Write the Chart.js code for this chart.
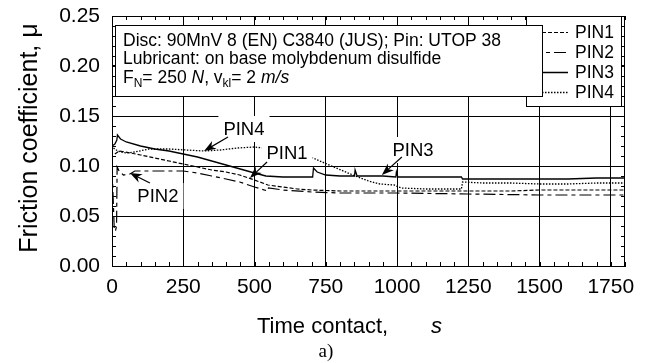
<!DOCTYPE html>
<html>
<head>
<meta charset="utf-8">
<title>Friction coefficient</title>
<script src="https://cdn.jsdelivr.net/npm/chart.js@4.4.0/dist/chart.umd.min.js"></script>
<style>
  html, body { margin: 0; padding: 0; background: #fff; }
</style>
</head>
<body>
<canvas id="chart" width="645" height="363"></canvas>
<script>
// axis ticks
const xTicks = [0, 250, 500, 750, 1000, 1250, 1500, 1750];
const yTicks = [0.00, 0.05, 0.10, 0.15, 0.20, 0.25];

// PIN1 - dashed
const pin1Time = [10, 25, 47, 100, 150, 200, 250, 300, 350, 400, 448, 500, 547, 600, 650, 700, 800, 900, 1000, 1100, 1250, 1400, 1500, 1650, 1800];
const pin1Mu = [0.112, 0.115, 0.114, 0.111, 0.108, 0.105, 0.102, 0.099, 0.096, 0.094, 0.091, 0.086, 0.081, 0.079, 0.077, 0.076, 0.075, 0.075, 0.075, 0.075, 0.075, 0.075, 0.076, 0.076, 0.076];

// PIN2 - dash / long dash
const pin2Time = [0, 4, 8, 12, 16, 18, 25, 40, 63, 80, 150, 250, 300, 350, 400, 448, 500, 546, 549, 600, 700, 800, 1000, 1250, 1500, 1800];
const pin2Mu = [0.098, 0.068, 0.036, 0.035, 0.040, 0.099, 0.095, 0.091, 0.092, 0.095, 0.095, 0.095, 0.093, 0.090, 0.087, 0.084, 0.079, 0.075, 0.078, 0.076, 0.074, 0.073, 0.073, 0.072, 0.071, 0.071];

// PIN3 - solid
const pin3Time = [0, 10, 17, 19, 30, 50, 100, 150, 200, 250, 300, 350, 400, 450, 500, 540, 600, 704, 707, 720, 750, 800, 851, 853, 860, 900, 950, 996, 998, 1003, 1100, 1226, 1230, 1300, 1400, 1500, 1600, 1700, 1800];
const pin3Mu = [0.120, 0.122, 0.126, 0.131, 0.127, 0.124, 0.120, 0.117, 0.115, 0.112, 0.109, 0.105, 0.101, 0.097, 0.093, 0.090, 0.089, 0.089, 0.098, 0.094, 0.091, 0.090, 0.090, 0.096, 0.090, 0.090, 0.090, 0.089, 0.094, 0.089, 0.089, 0.089, 0.087, 0.087, 0.087, 0.087, 0.087, 0.088, 0.088];

// PIN4 - dotted
const pin4Time = [5, 15, 30, 50, 80, 130, 200, 260, 323, 380, 440, 500, 560, 620, 705, 770, 845, 900, 940, 990, 1005, 1015, 1100, 1226, 1230, 1300, 1400, 1500, 1600, 1700, 1800];
const pin4Mu = [0.118, 0.116, 0.114, 0.113, 0.114, 0.117, 0.117, 0.116, 0.115, 0.116, 0.118, 0.119, 0.117, 0.113, 0.108, 0.100, 0.091, 0.085, 0.082, 0.081, 0.079, 0.078, 0.077, 0.077, 0.084, 0.083, 0.083, 0.082, 0.082, 0.083, 0.083];

// curve labels with arrows (label centre, arrow tail, arrow head) in data units
const pinNotes = [
    { text: 'PIN4', t: 463, mu: 0.137, fromT: 407, fromMu: 0.129, toT: 323, toMu: 0.115 },
    { text: 'PIN1', t: 614, mu: 0.113, fromT: 544, fromMu: 0.104, toT: 484, toMu: 0.088 },
    { text: 'PIN2', t: 161, mu: 0.070, fromT: 133, fromMu: 0.083, toT: 63, toMu: 0.093 },
    { text: 'PIN3', t: 1056, mu: 0.116, fromT: 1017, fromMu: 0.109, toT: 947, toMu: 0.091 }
];

const FONT = '"Liberation Sans", Arial, Helvetica, sans-serif';
const SERIF = '"Liberation Serif", "Times New Roman", serif';

function toPoints(ts, ms) {
    return ts.map((t, i) => ({ x: t, y: ms[i] }));
}

function lineSet(label, ts, ms, dash, width) {
    return {
        label: label,
        data: toPoints(ts, ms),
        showLine: true,
        borderColor: '#000',
        borderWidth: width,
        borderDash: dash,
        pointRadius: 0,
        fill: false,
        tension: 0
    };
}

function drawArrow(ctx, x1, y1, x2, y2) {
    const ang = Math.atan2(y2 - y1, x2 - x1);
    const len = 12, half = 4.5;
    ctx.beginPath();
    ctx.moveTo(x1, y1);
    ctx.lineTo(x2 - Math.cos(ang) * len * 0.6, y2 - Math.sin(ang) * len * 0.6);
    ctx.stroke();
    ctx.beginPath();
    ctx.moveTo(x2, y2);
    ctx.lineTo(x2 - Math.cos(ang) * len + Math.sin(ang) * half, y2 - Math.sin(ang) * len - Math.cos(ang) * half);
    ctx.lineTo(x2 - Math.cos(ang) * len * 0.7, y2 - Math.sin(ang) * len * 0.7);
    ctx.lineTo(x2 - Math.cos(ang) * len - Math.sin(ang) * half, y2 - Math.sin(ang) * len + Math.cos(ang) * half);
    ctx.closePath();
    ctx.fill();
}

// draws the frame, minor ticks, curve labels, legend, info box and axis titles
const decorPlugin = {
    id: 'decor',
    afterDatasetsDraw(chart) {
        const { ctx, chartArea: a, scales: { x, y } } = chart;
        ctx.save();
        ctx.strokeStyle = '#000';
        ctx.fillStyle = '#000';
        ctx.lineWidth = 1;
        ctx.setLineDash([]);

        // curve labels
        ctx.font = '18.5px ' + FONT;
        ctx.textAlign = 'center';
        ctx.textBaseline = 'middle';
        pinNotes.forEach(n => {
            const cx = x.getPixelForValue(n.t);
            const cy = y.getPixelForValue(n.mu);
            const w = ctx.measureText(n.text).width;
            ctx.fillStyle = '#fff';
            ctx.fillRect(cx - w / 2 - 5, cy - 13, w + 10, 26);
            ctx.fillStyle = '#000';
            ctx.fillText(n.text, cx, cy + 1);
            ctx.lineWidth = 1.2;
            drawArrow(ctx, x.getPixelForValue(n.fromT), y.getPixelForValue(n.fromMu),
                x.getPixelForValue(n.toT), y.getPixelForValue(n.toMu));
            ctx.lineWidth = 1;
        });

        // minor ticks, inside on all four sides
        ctx.beginPath();
        for (let v = 0; v <= 1800; v += 50) {
            const px = Math.round(x.getPixelForValue(v)) + 0.5;
            ctx.moveTo(px, a.bottom); ctx.lineTo(px, a.bottom - 4);
            ctx.moveTo(px, a.top); ctx.lineTo(px, a.top + 4);
        }
        for (let i = 0; i <= 25; i++) {
            const py = Math.round(y.getPixelForValue(i / 100)) + 0.5;
            ctx.moveTo(a.left, py); ctx.lineTo(a.left + 4, py);
            ctx.moveTo(a.right, py); ctx.lineTo(a.right - 4, py);
        }
        ctx.stroke();

        // legend box
        const lw = 96, lh = 91;
        const lx = a.right - 3 - lw, ly = a.top;
        ctx.fillStyle = '#fff';
        ctx.fillRect(lx, ly, lw, lh);
        ctx.strokeRect(lx + 0.5, ly + 0.5, lw - 1, lh - 1);
        ctx.font = '17.5px ' + FONT;
        ctx.textAlign = 'left';
        ctx.textBaseline = 'middle';
        chart.data.datasets.forEach((ds, i) => {
            const ry = Math.round(ly + 15.5 + i * 20) + 0.5;
            ctx.lineWidth = ds.borderWidth;
            ctx.setLineDash(ds.borderDash || []);
            ctx.beginPath();
            ctx.moveTo(lx + 4, ry);
            ctx.lineTo(lx + 42, ry);
            ctx.stroke();
            ctx.setLineDash([]);
            ctx.lineWidth = 1;
            ctx.fillStyle = '#000';
            ctx.fillText(ds.label, lx + 49, ry + 1);
        });

        // info box
        const bx = a.left + 3, by = a.top + 9, bw = 428, bh = 72;
        ctx.fillStyle = '#fff';
        ctx.fillRect(bx, by, bw, bh);
        ctx.strokeRect(bx + 0.5, by + 0.5, bw - 1, bh - 1);
        ctx.fillStyle = '#000';
        ctx.textBaseline = 'alphabetic';
        ctx.textAlign = 'left';
        const big = '17.5px ' + FONT, small = '12px ' + FONT, ital = 'italic 17.5px ' + FONT;
        ctx.font = big;
        ctx.fillText('Disc: 90MnV 8 (EN) C3840 (JUS); Pin: UTOP 38', bx + 8, by + 20.5);
        ctx.fillText('Lubricant: on base molybdenum disulfide', bx + 8, by + 39);
        const parts = [
            ['F', big, 0], ['N', small, 4], ['= 250 ', big, 0], ['N', ital, 0], [', v', big, 0],
            ['kl', small, 4], ['= 2 ', big, 0], ['m/s', ital, 0]
        ];
        let tx = bx + 8;
        parts.forEach(p => {
            ctx.font = p[1];
            ctx.fillText(p[0], tx, by + 57.5 + p[2]);
            tx += ctx.measureText(p[0]).width;
        });

        // frame
        ctx.strokeRect(a.left + 0.5, a.top + 0.5, a.right - a.left - 1, a.bottom - a.top);

        // axis titles
        ctx.font = '25px ' + FONT;
        ctx.textAlign = 'center';
        ctx.textBaseline = 'middle';
        ctx.save();
        ctx.translate(30, (a.top + a.bottom) / 2 - 3);
        ctx.rotate(-Math.PI / 2);
        ctx.fillText('Friction coefficient, \u03bc', 0, 0);
        ctx.restore();

        ctx.textAlign = 'left';
        ctx.textBaseline = 'alphabetic';
        ctx.font = '22px ' + FONT;
        ctx.fillText('Time contact,', 257, a.bottom + 67);
        ctx.font = 'italic 22px ' + FONT;
        ctx.fillText('s', 431, a.bottom + 67);
        ctx.font = '19px ' + SERIF;
        ctx.textAlign = 'center';
        ctx.fillText('a)', 326, a.bottom + 91);
        ctx.restore();
    }
};

const chart = new Chart(document.getElementById('chart').getContext('2d'), {
    type: 'scatter',
    data: {
        datasets: [
            lineSet('PIN1', pin1Time, pin1Mu, [4, 2], 1.2),
            lineSet('PIN2', pin2Time, pin2Mu, [12, 4, 4, 4], 1.2),
            lineSet('PIN3', pin3Time, pin3Mu, [], 1.3),
            lineSet('PIN4', pin4Time, pin4Mu, [1.5, 1.5], 1.3)
        ]
    },
    options: {
        responsive: false,
        animation: false,
        events: [],
        layout: { padding: { top: 16, right: 20, left: 0, bottom: 0 } },
        plugins: {
            legend: { display: false },
            tooltip: { enabled: false }
        },
        scales: {
            x: {
                type: 'linear',
                min: 0,
                max: 1800,
                afterBuildTicks: s => { s.ticks = xTicks.map(v => ({ value: v })); },
                afterFit: s => { s.height = 97; s.paddingLeft = 0; s.paddingRight = 0; },
                grid: { color: '#000', lineWidth: 1, drawTicks: false },
                border: { color: '#000', width: 1 },
                ticks: {
                    color: '#000',
                    font: { family: FONT, size: 21 },
                    padding: 9,
                    maxRotation: 0,
                    autoSkip: false,
                    callback: v => String(v)
                }
            },
            y: {
                type: 'linear',
                min: 0,
                max: 0.25,
                afterBuildTicks: s => { s.ticks = yTicks.map(v => ({ value: v })); },
                afterFit: s => { s.width = 112; s.paddingTop = 0; s.paddingBottom = 0; },
                grid: { color: '#000', lineWidth: 1, drawTicks: false },
                border: { color: '#000', width: 1 },
                ticks: {
                    color: '#000',
                    font: { family: FONT, size: 21 },
                    padding: 12,
                    autoSkip: false,
                    callback: v => v.toFixed(2)
                }
            }
        }
    },
    plugins: [decorPlugin]
});
</script>
</body>
</html>
